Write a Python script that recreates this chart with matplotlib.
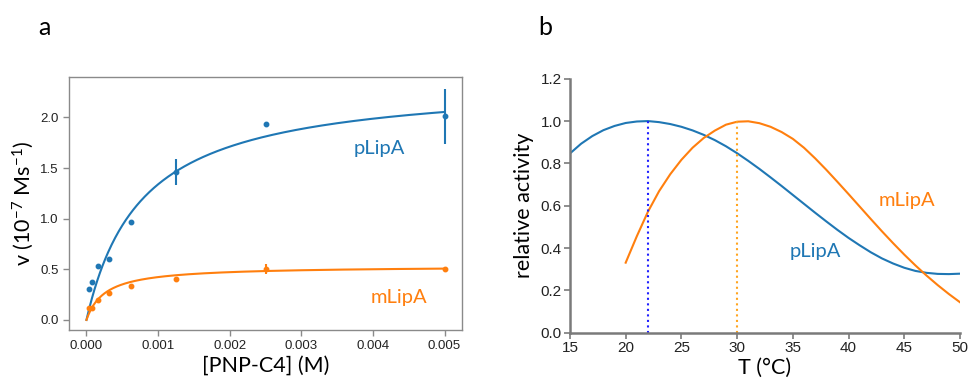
import numpy as np
import matplotlib
matplotlib.use("Agg")
import matplotlib.pyplot as plt

plt.rcParams['font.family'] = ['Liberation Sans', 'DejaVu Sans']
plt.rcParams['mathtext.fontset'] = 'custom'
plt.rcParams['mathtext.rm'] = 'Lato'
plt.rcParams['mathtext.it'] = 'Lato:italic'

BLUE = '#1f77b4'
ORANGE = '#ff7f0e'
SPINE = '#8a8a8a'
LABEL_FONT = ['Lato', 'DejaVu Sans']

# ---- panel a data ----
substrate = [3.90625e-5, 7.8125e-5, 1.5625e-4, 3.125e-4, 6.25e-4, 1.25e-3, 2.5e-3, 5e-3]
plipa_v = [0.306, 0.37, 0.536, 0.605, 0.97, 1.46, 1.93, 2.01]
plipa_err = [0.01, 0.01, 0.01, 0.01, 0.01, 0.13, 0.01, 0.27]
mlipa_v = [0.115, 0.122, 0.20, 0.263, 0.336, 0.408, 0.507, 0.507]
mlipa_err = [0.012, 0.012, 0.012, 0.012, 0.015, 0.015, 0.05, 0.02]
# Michaelis-Menten fit parameters (Vmax, Km)
plipa_fit = [2.37, 0.00077]
mlipa_fit = [0.533, 0.00026]

# ---- panel b data ----
temp_p = list(range(15, 51))
plipa_rel = [0.847, 0.893, 0.929, 0.957, 0.977, 0.991, 0.998, 1.000, 0.995, 0.986,
             0.973, 0.956, 0.935, 0.910, 0.881, 0.848, 0.812, 0.774, 0.734, 0.693,
             0.651, 0.609, 0.567, 0.526, 0.486, 0.448, 0.413, 0.380, 0.351, 0.327,
             0.307, 0.292, 0.283, 0.278, 0.277, 0.279]
temp_m = list(range(20, 51))
mlipa_rel = [0.331, 0.456, 0.572, 0.669, 0.749, 0.817, 0.874, 0.920, 0.955, 0.983,
             0.997, 0.999, 0.990, 0.973, 0.948, 0.916, 0.874, 0.824, 0.770, 0.713,
             0.655, 0.596, 0.537, 0.479, 0.423, 0.369, 0.318, 0.270, 0.225, 0.183,
             0.144]
topt_p = 22
topt_m = 30

fig = plt.figure(figsize=(9.69, 3.86), dpi=100)

# ---------------- panel a ----------------
ax1 = fig.add_axes([0.0715, 0.145, 0.405, 0.6547])
xs = np.linspace(0, 0.005, 400)
for fit, c in [(plipa_fit, BLUE), (mlipa_fit, ORANGE)]:
    ax1.plot(xs, fit[0] * xs / (fit[1] + xs), color=c, lw=1.5)
ax1.errorbar(substrate, plipa_v, yerr=plipa_err, fmt='o', ms=3.2, color=BLUE,
             elinewidth=1.5, capsize=0)
ax1.errorbar(substrate, mlipa_v, yerr=mlipa_err, fmt='o', ms=3.2, color=ORANGE,
             elinewidth=1.5, capsize=0)
ax1.set_xlim(-0.00024, 0.00524)
ax1.set_ylim(-0.10, 2.396)
ax1.set_xticks([0, 0.001, 0.002, 0.003, 0.004, 0.005])
ax1.set_xticklabels(['0.000', '0.001', '0.002', '0.003', '0.004', '0.005'])
ax1.set_yticks([0, 0.5, 1.0, 1.5, 2.0])
ax1.set_yticklabels(['0.0', '0.5', '1.0', '1.5', '2.0'])
for s in ax1.spines.values():
    s.set_color(SPINE)
    s.set_linewidth(1.0)
ax1.tick_params(labelsize=9.5, colors='#222222', length=4, width=1, direction='out')
ax1.tick_params(color=SPINE)
ax1.set_xlabel('[PNP-C4] (M)', fontsize=15.5, family=LABEL_FONT, labelpad=2)
ax1.set_ylabel(r'v (10$^{-7}$ Ms$^{-1}$)', fontsize=15.5, family=LABEL_FONT, labelpad=3)
ax1.text(0.00409, 1.69, 'pLipA', color=BLUE, fontsize=14.5, family=LABEL_FONT,
         ha='center', va='center')
ax1.text(0.00436, 0.217, 'mLipA', color=ORANGE, fontsize=14.5, family=LABEL_FONT,
         ha='center', va='center')
fig.text(0.0455, 0.93, 'a', fontsize=18, family=LABEL_FONT, ha='center', va='center')

# ---------------- panel b ----------------
ax2 = fig.add_axes([0.5882, 0.138, 0.4025, 0.658])
ax2.plot(temp_p, plipa_rel, color=BLUE, lw=1.5)
ax2.plot(temp_m, mlipa_rel, color=ORANGE, lw=1.5)
ax2.plot([topt_p, topt_p], [0, max(plipa_rel)], color='#2020ff', lw=1.5, ls=':')
ax2.plot([topt_m, topt_m], [0, max(mlipa_rel)], color='#ffa520', lw=1.5, ls=':')
ax2.set_xlim(15, 50)
ax2.set_ylim(0, 1.2)
ax2.set_xticks(range(15, 51, 5))
ax2.set_yticks([0, 0.2, 0.4, 0.6, 0.8, 1.0, 1.2])
ax2.set_yticklabels(['0.0', '0.2', '0.4', '0.6', '0.8', '1.0', '1.2'])
for k in ['top', 'right']:
    ax2.spines[k].set_visible(False)
for k in ['left', 'bottom']:
    ax2.spines[k].set_color('#7a7a7a')
    ax2.spines[k].set_linewidth(1.8)
ax2.tick_params(labelsize=11, colors='#222222', length=4, width=1.2, direction='out', pad=2)
ax2.tick_params(color='#7a7a7a')
ax2.set_xlabel('T (°C)', fontsize=15.5, family=LABEL_FONT, labelpad=2)
ax2.set_ylabel('relative activity', fontsize=15.5, family=LABEL_FONT, labelpad=5)
ax2.text(37.0, 0.386, 'pLipA', color=BLUE, fontsize=14.5, family=LABEL_FONT,
         ha='center', va='center')
ax2.text(45.2, 0.627, 'mLipA', color=ORANGE, fontsize=14.5, family=LABEL_FONT,
         ha='center', va='center')
fig.text(0.5625, 0.93, 'b', fontsize=18, family=LABEL_FONT, ha='center', va='center')

fig.savefig('out.png', dpi=100)
